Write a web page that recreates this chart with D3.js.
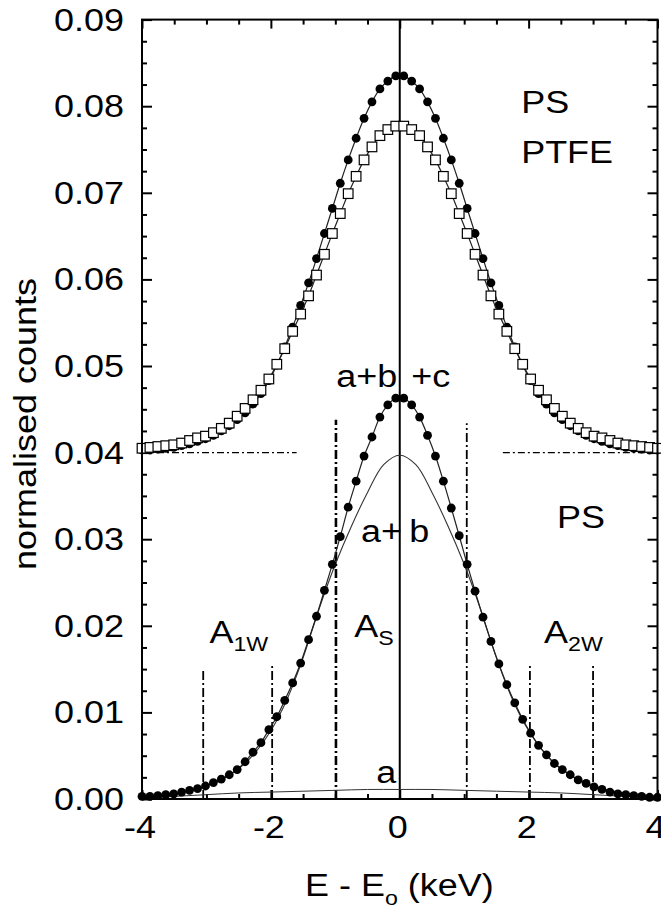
<!DOCTYPE html>
<html>
<head>
<meta charset="utf-8">
<script src="https://cdn.jsdelivr.net/npm/d3@7"></script>
<style>
  body { margin: 0; background: #fff; }
  svg { display: block; }
  text { font-family: "Liberation Sans", Arial, sans-serif; fill: #000; }
</style>
</head>
<body>
<svg id="chart" width="661" height="911"></svg>
<script>
// energy channels E - Eo (keV)
var energy = [-4.000,-3.877,-3.754,-3.631,-3.508,-3.385,-3.262,-3.138,-3.015,-2.892,-2.769,-2.646,-2.523,-2.400,-2.277,-2.154,-2.031,-1.908,-1.785,-1.662,-1.538,-1.415,-1.292,-1.169,-1.046,-0.923,-0.800,-0.677,-0.554,-0.431,-0.308,-0.185,-0.062,
              0.062,0.185,0.308,0.431,0.554,0.677,0.800,0.923,1.046,1.169,1.292,1.415,1.538,1.662,1.785,1.908,2.031,2.154,2.277,2.400,2.523,2.646,2.769,2.892,3.015,3.138,3.262,3.385,3.508,3.631,3.754,3.877,4.000];

// PS, upper curve (shifted by 0.04)
var psUpper = [0.0403,0.0403,0.0404,0.0405,0.0406,0.0408,0.0410,0.0413,0.0416,0.0420,0.0425,0.0431,0.0438,0.0446,0.0456,0.0468,0.0483,0.0501,0.0522,0.0545,0.0570,0.0596,0.0624,0.0653,0.0682,0.0711,0.0738,0.0763,0.0786,0.0805,0.0820,0.0829,0.0835,
               0.0835,0.0829,0.0820,0.0805,0.0786,0.0763,0.0738,0.0711,0.0682,0.0653,0.0624,0.0596,0.0570,0.0545,0.0522,0.0501,0.0483,0.0468,0.0456,0.0446,0.0438,0.0431,0.0425,0.0420,0.0416,0.0413,0.0410,0.0408,0.0406,0.0405,0.0404,0.0403,0.0403];

// PTFE (shifted by 0.04)
var ptfe = [0.0405,0.0406,0.0407,0.0408,0.0409,0.0411,0.0414,0.0417,0.0419,0.0423,0.0428,0.0434,0.0442,0.0451,0.0461,0.0472,0.0485,0.0502,0.0520,0.0540,0.0560,0.0581,0.0605,0.0629,0.0653,0.0676,0.0699,0.0719,0.0738,0.0753,0.0766,0.0773,0.0777,
            0.0777,0.0773,0.0766,0.0753,0.0738,0.0719,0.0699,0.0676,0.0653,0.0629,0.0605,0.0581,0.0560,0.0540,0.0520,0.0502,0.0485,0.0472,0.0461,0.0451,0.0442,0.0434,0.0428,0.0423,0.0419,0.0417,0.0414,0.0411,0.0409,0.0408,0.0407,0.0406,0.0405];

// PS, lower curve (a+b+c)
var psLower = [0.0003,0.0003,0.0004,0.0005,0.0006,0.0008,0.0010,0.0012,0.0015,0.0019,0.0023,0.0028,0.0034,0.0043,0.0054,0.0065,0.0080,0.0095,0.0114,0.0134,0.0157,0.0184,0.0211,0.0241,0.0271,0.0303,0.0337,0.0367,0.0396,0.0418,0.0441,0.0455,0.0463,
               0.0463,0.0455,0.0441,0.0420,0.0396,0.0367,0.0336,0.0304,0.0271,0.0240,0.0210,0.0182,0.0156,0.0132,0.0111,0.0092,0.0076,0.0062,0.0051,0.0041,0.0034,0.0028,0.0022,0.0018,0.0014,0.0011,0.0008,0.0006,0.0005,0.0004,0.0003,0.0002,0.0002];

// fit components
var fitABx = [-4,-3.75,-3.5,-3.25,-3,-2.75,-2.5,-2.25,-2,-1.75,-1.5,-1.25,-1,-0.75,-0.5,-0.25,0,0.25,0.5,0.75,1,1.25,1.5,1.75,2,2.25,2.5,2.75,3,3.25,3.5,3.75,4];
var fitAB = [0.0003,0.0005,0.0007,0.0010,0.0015,0.0023,0.0035,0.0053,0.0079,0.0115,0.0163,0.0220,0.0271,0.0315,0.0354,0.0386,0.0397,0.0386,0.0354,0.0315,0.0271,0.0220,0.0163,0.0115,0.0079,0.0053,0.0035,0.0023,0.0015,0.0010,0.0007,0.0005,0.0003];
var fitAx = [-4,-3.5,-3,-2.5,-2,-1.5,-1,-0.5,0,0.5,1,1.5,2,2.5,3,3.5,4];
var fitA = [0.0001,0.0003,0.0005,0.0007,0.0008,0.0009,0.0010,0.0011,0.0011,0.0011,0.0010,0.0009,0.0008,0.0007,0.0005,0.0003,0.0001];

// integration windows (dash-dot markers)
var windowEdges = [-3.05, -1.98, -0.99, 1.04, 2.02, 3.0];
var windowTops = [0.0151, 0.0157, 0.0438, 0.0434, 0.0157, 0.0157];
var baseLevel = 0.04;
var baseSegments = [[-4, -1.6], [1.6, 4]];

var xMajor = [-4, -2, 0, 2, 4];
var yMajor = [0, 0.01, 0.02, 0.03, 0.04, 0.05, 0.06, 0.07, 0.08, 0.09];

var svg = d3.select("#chart");
var padL = 142, padR = 657.5, padT = 19.6, padB = 799;

var x = d3.scaleLinear().domain([-4, 4]).range([padL, padR]);
var y = d3.scaleLinear().domain([0, 0.09]).range([padB, padT]);

var stretch = 1.16; // wide sans look

function label(px, py, s, size, anchor, rot) {
  var g = svg.append("g")
    .attr("transform", "translate(" + px + "," + py + ")" + (rot ? " rotate(" + rot + ")" : "") + " scale(" + stretch + ",1)");
  return g.append("text")
    .attr("font-size", size)
    .attr("text-anchor", anchor || "start")
    .text(s);
}

function subLabel(px, py, main, sub, size, subSize) {
  var t = label(px, py, main, size);
  t.append("tspan").attr("font-size", subSize).attr("dy", 8).text(sub);
  return t;
}

// ticks (inward on all four sides)
var yMinor = d3.range(0, 0.0901, 0.0025).filter(function(v) { return Math.abs(Math.round(v * 100) - v * 100) > 1e-6; });
var xMinor = d3.range(-4, 4.01, 0.5).filter(function(v) { return v % 2 !== 0; });

function ticks(axisFn, scale, values, size, tx, ty) {
  svg.append("g")
    .attr("transform", "translate(" + tx + "," + ty + ")")
    .call(axisFn(scale).tickValues(values).tickSizeInner(-size).tickSizeOuter(0).tickFormat(""))
    .call(function(g) { g.select(".domain").remove(); g.selectAll("line").attr("stroke-width", 2); });
}
ticks(d3.axisLeft, y, yMajor, 10, padL, 0);
ticks(d3.axisLeft, y, yMinor, 5, padL, 0);
ticks(d3.axisRight, y, yMajor, 10, padR, 0);
ticks(d3.axisRight, y, yMinor, 5, padR, 0);
ticks(d3.axisBottom, x, xMajor, 9, 0, padB);
ticks(d3.axisBottom, x, xMinor, 5, 0, padB);
ticks(d3.axisTop, x, xMajor, 9, 0, padT);
ticks(d3.axisTop, x, xMinor, 5, 0, padT);

// tick labels
yMajor.forEach(function(v) { label(124, y(v) + 11, d3.format(".2f")(v), 31, "end"); });
xMajor.forEach(function(v) { label(x(v) - 2, 838, String(v), 31, "middle"); });

// axis titles
label(36, 424, "normalised counts", 31, "middle", -90);
var xt = label(305, 896, "E - E", 31);
xt.append("tspan").attr("font-size", 20).attr("dy", 9).text("o");
xt.append("tspan").attr("dy", -9).text(" (keV)");

// dash-dot reference lines
baseSegments.forEach(function(s) {
  svg.append("line")
    .attr("x1", x(s[0])).attr("x2", x(s[1]))
    .attr("y1", y(baseLevel)).attr("y2", y(baseLevel))
    .attr("stroke", "#000").attr("stroke-width", 1.1)
    .attr("stroke-dasharray", "7,3,2,3");
});
windowEdges.forEach(function(e, i) {
  svg.append("line")
    .attr("x1", x(e)).attr("x2", x(e))
    .attr("y1", y(0)).attr("y2", y(windowTops[i]))
    .attr("stroke", "#000").attr("stroke-width", i === 2 ? 2.6 : 1.8)
    .attr("stroke-dasharray", "9,3,2,3");
});

// centre line
svg.append("line")
  .attr("x1", x(0)).attr("x2", x(0)).attr("y1", padT).attr("y2", padB)
  .attr("stroke", "#000").attr("stroke-width", 2);

// fit lines
var smooth = d3.line().curve(d3.curveCatmullRom);
svg.append("path")
  .attr("d", smooth(fitAx.map(function(e, i) { return [x(e), y(fitA[i])]; })))
  .attr("fill", "none").attr("stroke", "#333").attr("stroke-width", 1);
svg.append("path")
  .attr("d", smooth(fitABx.map(function(e, i) { return [x(e), y(fitAB[i])]; })))
  .attr("fill", "none").attr("stroke", "#333").attr("stroke-width", 1.1);

function series(vals, shape) {
  var pts = energy.map(function(e, i) { return [x(e), y(vals[i])]; });
  svg.append("path")
    .attr("d", smooth(pts))
    .attr("fill", "none").attr("stroke", "#222").attr("stroke-width", 1.2);
  var g = svg.append("g");
  if (shape === "circle") {
    g.selectAll("circle").data(pts).enter().append("circle")
      .attr("cx", function(d) { return d[0]; })
      .attr("cy", function(d) { return d[1]; })
      .attr("r", 4.4).attr("fill", "#000");
  } else {
    g.selectAll("rect").data(pts).enter().append("rect")
      .attr("x", function(d) { return d[0] - 4.8; })
      .attr("y", function(d) { return d[1] - 4.8; })
      .attr("width", 9.6).attr("height", 9.6)
      .attr("fill", "#fff").attr("stroke", "#000").attr("stroke-width", 1.2);
  }
}
series(psLower, "circle");
series(psUpper, "circle");
series(ptfe, "square");

// frame
svg.append("rect")
  .attr("x", padL).attr("y", padT).attr("width", padR - padL).attr("height", padB - padT)
  .attr("fill", "none").attr("stroke", "#000").attr("stroke-width", 2);

// annotations
label(x(1.884), y(0.0792), "PS", 31);
label(x(1.884), y(0.0734), "PTFE", 31);
label(x(2.442), y(0.0313), "PS", 31);
label(x(-0.985), y(0.0476), "a+b", 31);
label(x(0.178), y(0.0476), "+c", 31);
label(x(-0.60), y(0.0297), "a+", 31);
label(x(0.147), y(0.0297), "b", 31);
label(x(-0.364), y(0.00185), "a", 31);
subLabel(x(-2.953), y(0.0180), "A", "1W", 31, 20);
subLabel(x(-0.705), y(0.0187), "A", "S", 31, 20);
subLabel(x(2.24), y(0.0180), "A", "2W", 31, 20);
</script>
</body>
</html>
